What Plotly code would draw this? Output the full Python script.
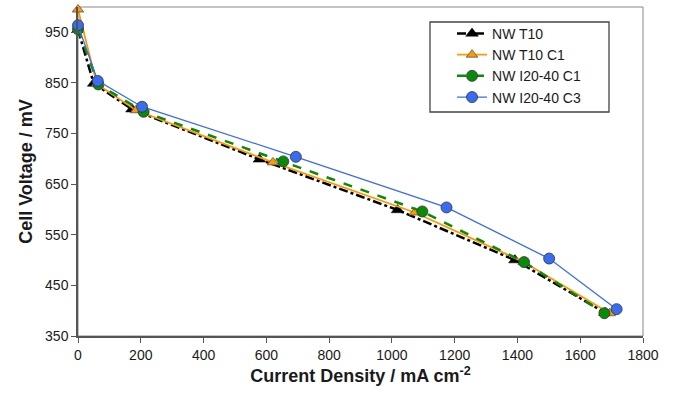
import plotly.graph_objects as go

# Data
t10_x = [0, 50, 172, 578, 1018, 1392, 1679]
t10_y = [955, 849, 798, 699, 599, 500, 396]

t10c1_x = [0, 60, 185, 621, 1073, 1420, 1694]
t10c1_y = [995, 848, 796, 693, 594, 496, 395]

i2040c1_x = [0, 65, 209, 654, 1097, 1421, 1677]
i2040c1_y = [956, 847, 793, 695, 596, 496, 395]

i2040c3_x = [0, 63, 204, 694, 1174, 1501, 1716]
i2040c3_y = [964, 854, 803, 704, 604, 503, 403]

x_ticks = [0, 200, 400, 600, 800, 1000, 1200, 1400, 1600, 1800]
y_ticks = [350, 450, 550, 650, 750, 850, 950]

fig = go.Figure()
fig.add_trace(go.Scatter(
    x=t10_x, y=t10_y, name="NW T10", mode="lines+markers", cliponaxis=False,
    line=dict(color="black", width=2.5, dash="dashdot"),
    marker=dict(symbol="triangle-up", size=11, color="black",
                line=dict(color="black", width=0.5))))
fig.add_trace(go.Scatter(
    x=t10c1_x, y=t10c1_y, name="NW T10 C1", mode="lines+markers", cliponaxis=False,
    line=dict(color="#ff9900", width=1.8),
    marker=dict(symbol="triangle-up", size=10, color="#ff9900",
                line=dict(color="#555555", width=0.8))))
fig.add_trace(go.Scatter(
    x=i2040c1_x, y=i2040c1_y, name="NW I20-40 C1", mode="lines+markers", cliponaxis=False,
    line=dict(color="#0a8a0a", width=2.5, dash="dash"),
    marker=dict(symbol="circle", size=11, color="#0a8a0a",
                line=dict(color="#333333", width=0.8))))
fig.add_trace(go.Scatter(
    x=i2040c3_x, y=i2040c3_y, name="NW I20-40 C3", mode="lines+markers", cliponaxis=False,
    line=dict(color="#3a6cf0", width=1.3),
    marker=dict(symbol="circle", size=11, color="#3a6cf0",
                line=dict(color="#333333", width=0.8))))

font_family = "Liberation Sans, Arial, sans-serif"
fig.update_layout(
    width=678, height=397,
    margin=dict(l=78, r=35, t=7, b=61),
    paper_bgcolor="white", plot_bgcolor="white",
    font=dict(family=font_family, size=14, color="#1a1a1a"),
    showlegend=True,
    legend=dict(x=0.662, y=0.967, xanchor="left", yanchor="top",
                bgcolor="rgba(0,0,0,0)", borderwidth=0,
                font=dict(size=14, color="#1a1a1a"),
                tracegroupgap=0),
    xaxis=dict(range=[0, 1800], tickvals=x_ticks, ticks="outside", ticklen=5,
               tickcolor="#555555", showgrid=False, zeroline=False,
               showline=True, linecolor="#555555", linewidth=1.5, mirror=False,
               tickfont=dict(size=14),
               title=dict(text="<b>Current Density / mA cm<sup>-2</sup></b>",
                          font=dict(size=18), standoff=8)),
    yaxis=dict(range=[350, 1000], tickvals=y_ticks, ticks="outside", ticklen=5,
               tickcolor="#555555", showgrid=False, zeroline=False,
               showline=True, linecolor="#555555", linewidth=1.5, mirror=False,
               tickfont=dict(size=14),
               title=dict(text="<b>Cell Voltage / mV</b>",
                          font=dict(size=18), standoff=8)),
    shapes=[
        dict(type="rect", xref="paper", yref="paper", x0=0, y0=0, x1=1, y1=1,
             line=dict(color="#888888", width=1), layer="below"),
        # legend frame
        dict(type="rect", xref="paper", yref="paper",
             x0=(430 - 78) / 565, x1=(609 - 78) / 565,
             y0=1 - (112 - 7) / 329, y1=1 - (22 - 7) / 329,
             line=dict(color="#444444", width=1.3), fillcolor="white", layer="below"),
    ],
)

fig.write_html("out.html")
